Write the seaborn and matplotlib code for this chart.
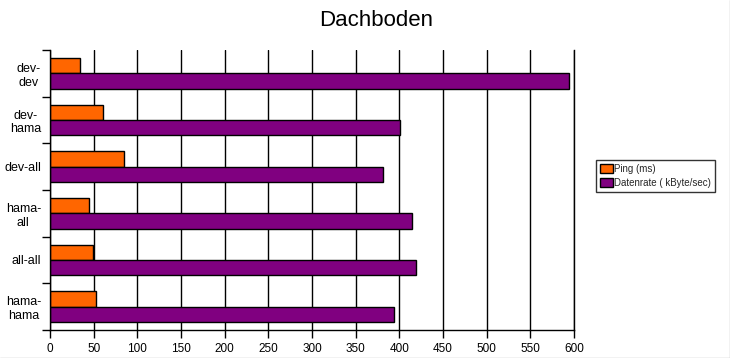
import matplotlib
matplotlib.use("Agg")
import matplotlib.pyplot as plt
import seaborn as sns
import pandas as pd
from matplotlib.lines import Line2D

categories = ["dev-\ndev", "dev-\nhama", "dev-all", "hama-\nall", "all-all", "hama-\nhama"]
ping_ms = [34, 61, 85, 45, 49, 53]
datenrate = [594, 401, 381, 415, 419, 394]
series = ["Ping (ms)", "Datenrate ( kByte/sec)"]
xticks = [0, 50, 100, 150, 200, 250, 300, 350, 400, 450, 500, 550, 600]

df = pd.DataFrame({
    "cat": categories * 2,
    "value": ping_ms + datenrate,
    "series": [series[0]] * len(categories) + [series[1]] * len(categories),
})

sns.set_theme(style="white")
plt.rcParams["font.family"] = ["Liberation Sans", "DejaVu Sans"]

W, H = 730, 358
fig = plt.figure(figsize=(W / 100, H / 100), dpi=100)
ax = fig.add_axes([50 / W, (H - 330) / H, (574 - 50) / W, (330 - 50) / H])

sns.barplot(data=df, y="cat", x="value", hue="series", order=categories,
            hue_order=series, palette=["#FF6600", "#800080"], orient="h",
            width=0.66, edgecolor="black", linewidth=1, ax=ax, legend=True,
            saturation=1)

ax.set_xlim(0, 600)
ax.set_ylim(len(categories) - 0.5, -0.5)
ax.set_xticks(xticks)
ax.set_xticklabels([str(t) for t in xticks], fontsize=8.5, color="black")
ax.xaxis.grid(True, color="black", linewidth=1)
ax.yaxis.grid(False)
ax.set_axisbelow(True)
ax.set_xlabel("")
ax.set_ylabel("")

ax.set_yticks(range(len(categories)))
ax.set_yticklabels(categories, fontsize=9, color="black")
for lab in ax.get_yticklabels():
    lab.set_multialignment("center")
ax.set_yticks([i - 0.5 for i in range(len(categories) + 1)], minor=True)
ax.tick_params(axis="y", which="major", length=0, pad=6.5)
ax.tick_params(axis="y", which="minor", length=6, width=1, color="black", left=True)
ax.tick_params(axis="x", which="major", length=6, width=1, color="black", bottom=True, pad=3)

ax.spines["top"].set_visible(False)
for s in ["left", "bottom", "right"]:
    ax.spines[s].set_color("black")
    ax.spines[s].set_linewidth(1)

handles, labels = ax.get_legend_handles_labels()
ax.get_legend().remove()
leg = fig.legend(handles, labels, loc="upper left",
                 bbox_to_anchor=(596 / W, 1 - 160 / H), fontsize=7,
                 frameon=True, fancybox=False, edgecolor="black",
                 handlelength=1.3, handleheight=1.0, handletextpad=0.15,
                 borderpad=0.4, labelspacing=0.4, borderaxespad=0)
leg.get_frame().set_linewidth(1)

fig.text(376 / W, 1 - 20 / H, "Dachboden", ha="center", va="center",
         fontsize=16, color="black")

fig.add_artist(Line2D([729.5 / W, 729.5 / W], [0, 1], transform=fig.transFigure,
                      color="#c0c0c0", linewidth=1))
fig.add_artist(Line2D([0, 1], [0.5 / H, 0.5 / H], transform=fig.transFigure,
                      color="#c0c0c0", linewidth=1))

fig.savefig("out.png", dpi=100)
